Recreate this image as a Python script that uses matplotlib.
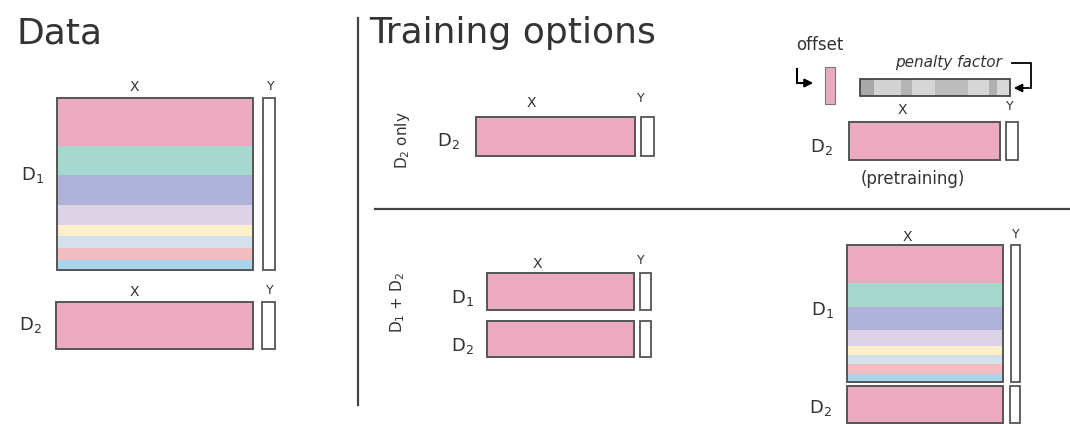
import matplotlib
matplotlib.use('Agg')
import matplotlib.pyplot as plt
from matplotlib.patches import Rectangle

# data blocks: sub-population shares of D1 (top to bottom) and their colours
band_share = [0.28, 0.17, 0.17, 0.12, 0.065, 0.065, 0.07, 0.06]
band_color = ['#ecaac1', '#a6d8cd', '#b0b3d9', '#ddd3e6', '#fcefc9', '#d3e1ec', '#f2bcc0', '#a9d4ea']
pink = '#ecaac1'

# penalty factor per feature block: (width share, grey level)
pen_width = [14, 27, 11, 24, 33, 21, 8, 13]
pen_grey = ['#a9a9a9', '#d3d3d3', '#b4b4b4', '#d6d6d6', '#bcbcbc', '#d6d6d6', '#b0b0b0', '#d8d8d8']

edge = '#555555'
ink = '#333333'
font = 'DejaVu Sans'

fig = plt.figure(figsize=(10.7, 4.24), dpi=100)
ax = fig.add_axes([0, 0, 1, 1])
ax.set_xlim(0, 1070)
ax.set_ylim(424, 0)
ax.axis('off')


def block(x0, x1, y0, y1, bands=None):
    if bands is None:
        ax.add_patch(Rectangle((x0, y0), x1 - x0, y1 - y0, fc=pink, ec='none'))
    else:
        y = y0
        tot = sum(band_share)
        for s, c in zip(band_share, band_color):
            h = (y1 - y0) * s / tot
            ax.add_patch(Rectangle((x0, y), x1 - x0, h, fc=c, ec='none'))
            y += h
    ax.add_patch(Rectangle((x0, y0), x1 - x0, y1 - y0, fc='none', ec=edge, lw=1.4))


def ycol(x0, x1, y0, y1):
    ax.add_patch(Rectangle((x0, y0), x1 - x0, y1 - y0, fc='white', ec=edge, lw=1.3))


def lab(x, y, s, size=11, **kw):
    ax.text(x, y, s, fontsize=size, color=ink, ha='center', va='center', family=font, **kw)


# ---- Data panel
lab(60, 33, 'Data', size=26)
block(57, 253, 98, 270, bands=True)
ycol(263, 275, 98, 270)
lab(134, 87, 'X', size=10)
lab(271, 86, 'Y', size=9)
lab(32, 175, 'D$_1$', size=13)
block(56, 253, 302, 349)
ycol(262, 275, 302, 349)
lab(134, 292, 'X', size=10)
lab(270, 290, 'Y', size=9)
lab(30, 325, 'D$_2$', size=13)

ax.plot([358, 358], [18, 405], color='#444444', lw=1.6)

# ---- Training options
lab(513, 33, 'Training options', size=26)
ax.plot([375, 1070], [209, 209], color='#444444', lw=1.6)

# D2 only
lab(402, 140, 'D$_2$ only', size=11, rotation=90)
block(476, 635, 117, 156)
ycol(641, 654, 117, 156)
lab(531, 103, 'X', size=10)
lab(641, 99, 'Y', size=9)
lab(448, 141, 'D$_2$', size=13)

# offset / penalty factor with pretraining
lab(820, 45, 'offset', size=12)
ax.add_patch(Rectangle((825, 67), 10, 37, fc=pink, ec='#777777', lw=0.8))
ax.plot([797, 797], [69, 83], color='black', lw=1.5)
ax.annotate('', xy=(816, 83), xytext=(796, 83),
            arrowprops=dict(arrowstyle='-|>', color='black', lw=1.5, mutation_scale=12))
x = 860
tot = sum(pen_width)
for w, g in zip(pen_width, pen_grey):
    ww = 150 * w / tot
    ax.add_patch(Rectangle((x, 79), ww, 17, fc=g, ec='none'))
    x += ww
ax.add_patch(Rectangle((860, 79), 150, 17, fc='none', ec='#444444', lw=1.3))
lab(948, 63, 'penalty factor', size=11, style='italic')
ax.plot([1012, 1031, 1031], [63, 63, 88], color='black', lw=1.3)
ax.annotate('', xy=(1011, 88), xytext=(1032, 88),
            arrowprops=dict(arrowstyle='-|>', color='black', lw=1.3, mutation_scale=12))
block(849, 1000, 122, 160)
ycol(1006, 1018, 122, 160)
lab(902, 110, 'X', size=10)
lab(1010, 107, 'Y', size=9)
lab(821, 147, 'D$_2$', size=13)
lab(913, 179, '(pretraining)', size=12)

# D1 + D2
lab(398, 302, 'D$_1$ + D$_2$', size=11, rotation=90)
block(487, 634, 273, 310)
ycol(640, 651, 273, 310)
block(487, 634, 321, 357)
ycol(640, 651, 321, 357)
lab(537, 264, 'X', size=10)
lab(641, 260, 'Y', size=9)
lab(462, 298, 'D$_1$', size=13)
lab(462, 346, 'D$_2$', size=13)

block(847, 1003, 245, 382, bands=True)
ycol(1011, 1020, 245, 382)
block(847, 1003, 386, 423)
ycol(1010, 1020, 386, 423)
lab(907, 237, 'X', size=10)
lab(1016, 235, 'Y', size=9)
lab(822, 310, 'D$_1$', size=13)
lab(820, 408, 'D$_2$', size=13)

fig.savefig('out.png', dpi=100, facecolor='white')
